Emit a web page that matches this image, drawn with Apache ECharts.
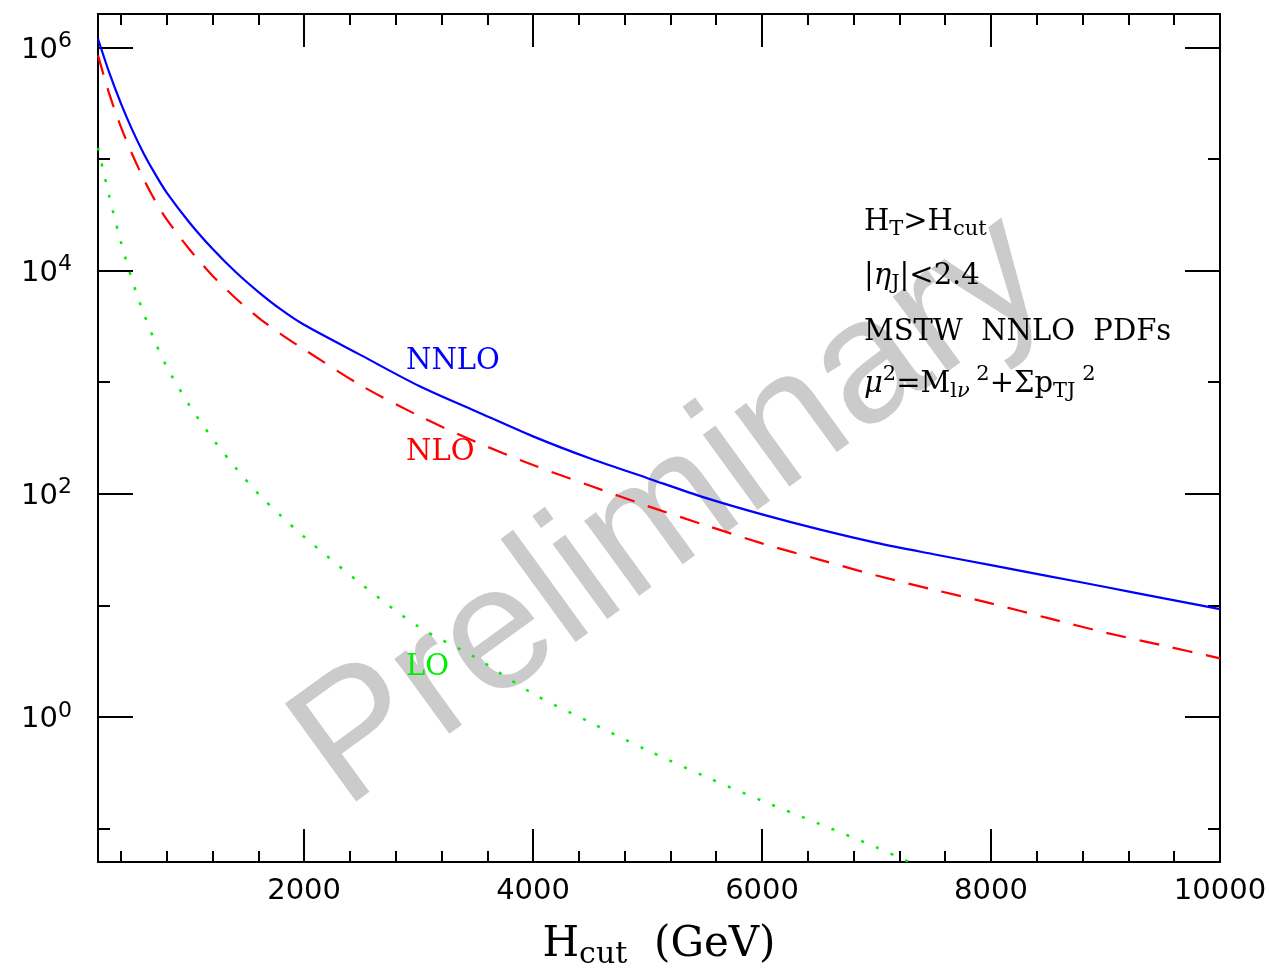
<!DOCTYPE html>
<html><head><meta charset="utf-8">
<script src="https://cdn.jsdelivr.net/npm/echarts@6/dist/echarts.min.js"></script>
<style>html,body{margin:0;padding:0;background:#fff}#c{width:1269px;height:972px}</style>
</head><body><div id="c"></div>
<script>
// H_cut values (GeV)
const hcut = [200, 300, 400, 500, 600, 700, 800, 1000, 1200, 1400, 1600, 1800, 2000,
  2500, 3000, 3500, 4000, 4500, 5000, 5500, 6000, 6500, 7000, 7500, 8000, 8500, 9000, 9500, 10000];
// cross sections (log-scale axis)
const nnlo = [1.20e6, 5.89e5, 3.16e5, 1.82e5, 1.12e5, 7.33e4, 5.01e4, 2.69e4, 1.57e4, 9.77e3, 6.46e3, 4.47e3, 3.27e3,
  1.74e3, 931, 550, 327, 207, 138, 92.3, 65.3, 47.9, 36.3, 28.7, 22.9, 18.3, 14.6, 11.6, 9.25];
const nlo = [8.51e5, 3.80e5, 1.95e5, 1.10e5, 6.61e4, 4.22e4, 2.88e4, 1.55e4, 9.02e3, 5.69e3, 3.80e3, 2.69e3, 1.97e3,
  933, 501, 292, 181, 118, 77.6, 52.5, 35.9, 25.7, 18.5, 13.8, 10.4, 7.67, 5.69, 4.37, 3.35];
const lo = [1.26e5, 4.57e4, 1.80e4, 8.13e3, 4.12e3, 2.29e3, 1.38e3, 617, 313, 172, 100, 63.1, 41.2,
  15.5, 6.43, 3.39, 1.61, 0.891, 0.501, 0.293, 0.177, 0.110, 0.0676, 0.0398];
// axes
const xRange = [200, 10000];
const yRange = [0.05, 2e6];
const xMajorTicks = [2000, 4000, 6000, 8000, 10000];
const xMinorTicks = [400, 800, 1200, 1600, 2400, 2800, 3200, 3600, 4400, 4800, 5200, 5600,
  6400, 6800, 7200, 7600, 8400, 8800, 9200, 9600];
const yMajorExp = [0, 2, 4, 6];
const yMinorExp = [-1, 1, 3, 5];

const toXY = (vals) => vals.map((v, i) => [hcut[i], Math.log10(v)]);
const yMin = Math.log10(yRange[0]), yMax = Math.log10(yRange[1]);

const black = '#000';
function xAx(pos, ticks, len, labels) {
  return {
    type: 'value', position: pos, min: xRange[0], max: xRange[1],
    axisLine: { show: true, onZero: false, lineStyle: { color: black, width: 2 } },
    axisTick: { show: true, inside: true, length: len, customValues: ticks, lineStyle: { color: black, width: 2 } },
    axisLabel: labels ? { show: true, customValues: ticks, margin: 15, color: black,
      fontFamily: 'DejaVu Sans', fontSize: 29, formatter: (v) => String(v) } : { show: false },
    splitLine: { show: false }
  };
}
function yAx(pos, exps, len, labels) {
  return {
    type: 'value', position: pos, min: yMin, max: yMax,
    axisLine: { show: true, onZero: false, lineStyle: { color: black, width: 2 } },
    axisTick: { show: true, inside: true, length: len, customValues: exps, lineStyle: { color: black, width: 2 } },
    axisLabel: labels ? {
      show: true, customValues: exps, margin: 26,
      formatter: (v) => '{b|10}{s|' + Math.round(v) + '}',
      rich: {
        b: { fontFamily: 'DejaVu Sans', fontSize: 29, lineHeight: 40, verticalAlign: 'middle', color: black, padding: [6, 0, 0, 0] },
        s: { fontFamily: 'DejaVu Sans', fontSize: 22, lineHeight: 22, verticalAlign: 'top', color: black, padding: [3, 0, 0, 0] }
      }
    } : { show: false },
    splitLine: { show: false }
  };
}

const xAxes = [xAx('bottom', xMajorTicks, 33, true), xAx('bottom', xMinorTicks, 11, false),
  xAx('top', xMajorTicks, 33, false), xAx('top', xMinorTicks, 11, false)];
xAxes[0].name = '{h|H}{c|cut}{h|  (GeV)}';
xAxes[0].nameLocation = 'middle';
xAxes[0].nameGap = 58;
xAxes[0].nameTextStyle = {
  rich: {
    h: { fontFamily: 'DejaVu Serif', fontSize: 42, lineHeight: 50, verticalAlign: 'middle', color: black },
    c: { fontFamily: 'DejaVu Serif', fontSize: 30, lineHeight: 24, verticalAlign: 'bottom', color: black }
  }
};
const yAxes = [yAx('left', yMajorExp, 35, true), yAx('left', yMinorExp, 12, false),
  yAx('right', yMajorExp, 35, false), yAx('right', yMinorExp, 12, false)];

const serif = 'DejaVu Serif';
const annRich = {
  m: { fontFamily: serif, fontSize: 29, lineHeight: 40, verticalAlign: 'middle', fill: black },
  i: { fontFamily: serif, fontStyle: 'italic', fontSize: 29, lineHeight: 40, verticalAlign: 'middle', fill: black },
  sub: { fontFamily: serif, fontSize: 21, lineHeight: 21, verticalAlign: 'bottom', padding: [0, 0, 2, 0], fill: black },
  subi: { fontFamily: serif, fontStyle: 'italic', fontSize: 21, lineHeight: 21, verticalAlign: 'bottom', padding: [0, 0, 2, 0], fill: black },
  sup: { fontFamily: serif, fontSize: 21, lineHeight: 21, verticalAlign: 'top', padding: [0, 0, 0, 0], fill: black }
};
function ann(text, x, y) {
  return { type: 'text', x: x, y: y, z: 10,
    style: { text: text, rich: annRich, x: 0, y: 0, verticalAlign: 'middle', align: 'left' } };
}
function curveLabel(text, color, x, y) {
  return { type: 'text', x: x, y: y, z: 10,
    style: { text: text, x: 0, y: 0, fill: color, font: '29px "DejaVu Serif"', verticalAlign: 'middle', align: 'left' } };
}

const chart = echarts.init(document.getElementById('c'), null, { renderer: 'canvas' });
chart.setOption({
  animation: false,
  backgroundColor: '#fff',
  grid: { left: 98, right: 49, top: 14, bottom: 110, containLabel: false, outerBoundsMode: 'none' },
  xAxis: xAxes,
  yAxis: yAxes,
  graphic: [
    { type: 'text', x: 672, y: 512, rotation: 36 * Math.PI / 180, z: 0, silent: true,
      style: { text: 'Preliminary', x: 0, y: 0, align: 'center', verticalAlign: 'middle',
        font: '176px "Liberation Sans"', fill: '#cbcbcb' } },
    curveLabel('NNLO', '#0000ff', 406, 361),
    curveLabel('NLO', '#ff0000', 406, 452),
    curveLabel('LO', '#00ee00', 406, 667),
    ann('{m|H}{sub|T}{m|>H}{sub|cut}', 864, 222),
    ann('{m||}{i|η}{sub|J}{m||<2.4}', 864, 276),
    ann('{m|MSTW  NNLO  PDFs}', 864, 332),
    ann('{i|μ}{sup|2}{m|=M}{sub|l}{subi|ν}{sup| 2}{m|+Σp}{sub|TJ}{sup| 2}', 864, 384)
  ],
  series: [
    { name: 'NNLO', type: 'line', data: toXY(nnlo), showSymbol: false, smooth: 0.3, z: 5,
      lineStyle: { color: '#0000ff', width: 2.2 } },
    { name: 'NLO', type: 'line', data: toXY(nlo), showSymbol: false, smooth: 0.3, z: 4,
      lineStyle: { color: '#ff0000', width: 2.2, type: [20, 14] } },
    { name: 'LO', type: 'line', data: toXY(lo), showSymbol: false, smooth: 0.3, z: 3, clip: true,
      lineStyle: { color: '#00ee00', width: 2.5, type: [3, 13] } }
  ]
});
</script></body></html>
